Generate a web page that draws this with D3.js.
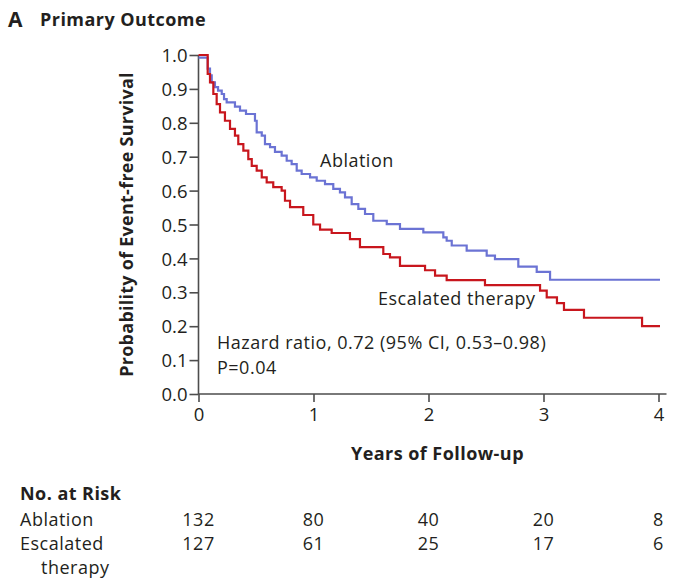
<!DOCTYPE html>
<html>
<head>
<meta charset="utf-8">
<script src="https://cdn.jsdelivr.net/npm/d3@7"></script>
<style>
body { margin: 0; background: #fff; }
text { font-family: "Open Sans", sans-serif; fill: #231f20; }
.axis path, .axis line { stroke: #4d4d4d; stroke-width: 1.6; }
.label { font-size: 18px; letter-spacing: 0.5px; }
.bold { font-size: 18px; font-weight: 700; letter-spacing: 0.45px; }
</style>
</head>
<body>
<div id="chart"></div>
<script>
// datos
const ablationTime = [0, 0.080, 0.100, 0.115, 0.143, 0.170, 0.202, 0.222, 0.245, 0.317, 0.361, 0.413, 0.491, 0.506, 0.550, 0.578, 0.622, 0.665, 0.723, 0.767, 0.810, 0.854, 0.897, 0.970, 1.028, 1.100, 1.172, 1.230, 1.274, 1.332, 1.390, 1.448, 1.520, 1.637, 1.752, 1.955, 2.129, 2.158, 2.202, 2.332, 2.506, 2.578, 2.781, 2.941, 3.057, 4.013]
const ablationSurv = [0.992, 0.960, 0.940, 0.919, 0.905, 0.895, 0.885, 0.870, 0.860, 0.848, 0.836, 0.826, 0.806, 0.772, 0.762, 0.737, 0.728, 0.714, 0.703, 0.688, 0.678, 0.659, 0.649, 0.639, 0.629, 0.619, 0.605, 0.595, 0.580, 0.560, 0.546, 0.531, 0.511, 0.501, 0.487, 0.477, 0.462, 0.452, 0.438, 0.423, 0.408, 0.398, 0.376, 0.360, 0.337, 0.337]

const escalatedTime = [0, 0.080, 0.100, 0.129, 0.158, 0.187, 0.230, 0.274, 0.317, 0.346, 0.390, 0.433, 0.463, 0.506, 0.550, 0.593, 0.650, 0.723, 0.752, 0.796, 0.911, 0.998, 1.057, 1.158, 1.317, 1.404, 1.607, 1.665, 1.752, 1.970, 2.057, 2.158, 2.491, 2.970, 3.028, 3.117, 3.178, 3.352, 3.857, 4.013]
const escalatedSurv = [1.0, 0.944, 0.919, 0.885, 0.855, 0.831, 0.806, 0.782, 0.762, 0.737, 0.718, 0.693, 0.673, 0.659, 0.639, 0.624, 0.610, 0.600, 0.570, 0.551, 0.528, 0.500, 0.485, 0.475, 0.457, 0.433, 0.413, 0.403, 0.378, 0.365, 0.349, 0.336, 0.321, 0.305, 0.285, 0.268, 0.248, 0.225, 0.200, 0.200]

const xTicks = [0, 1, 2, 3, 4]
const yTicks = [0.0, 0.1, 0.2, 0.3, 0.4, 0.5, 0.6, 0.7, 0.8, 0.9, 1.0]

const riskTimes = [0, 1, 2, 3, 4]
const riskAblation = [132, 80, 40, 20, 8]
const riskEscalated = [127, 61, 25, 17, 6]

const width = 689
const height = 585
const margin = { top: 55, left: 198.5, right: 30.5, bottom: 191 }

const svg = d3.select("div#chart").append("svg").attr("width", width).attr("height", height)

// escalas
const x = d3.scaleLinear().domain([0, 4]).range([margin.left, width - margin.right])
const y = d3.scaleLinear().domain([0, 1]).range([height - margin.bottom, margin.top])

// ejes
const yAxis = d3.axisLeft(y).tickValues(yTicks).tickFormat(d3.format(".1f")).tickSize(9).tickSizeOuter(0).tickPadding(2)
const xAxis = d3.axisBottom(x).tickValues(xTicks).tickFormat(d3.format("d")).tickSize(8).tickSizeOuter(0).tickPadding(6)

const yAxisGroup = svg.append("g").attr("class", "axis").attr("transform", `translate(${x(0)},0)`).call(yAxis)
const xAxisGroup = svg.append("g").attr("class", "axis").attr("transform", `translate(0,${y(0)})`).call(xAxis)
yAxisGroup.select(".domain").remove()
xAxisGroup.select(".domain").remove()
yAxisGroup.selectAll("text").attr("dy", "0.36em")
svg.selectAll(".axis").attr("font-size", null).attr("font-family", null)
svg.selectAll(".axis text").style("font-size", "18.5px").style("font-family", "'Open Sans', sans-serif").style("fill", "#231f20")

svg.append("line").attr("x1", x(0)).attr("x2", x(0)).attr("y1", y(1)).attr("y2", y(0))
    .attr("stroke", "#4d4d4d").attr("stroke-width", 1.6)
svg.append("line").attr("x1", x(0)).attr("x2", x(4) + 8).attr("y1", y(0)).attr("y2", y(0))
    .attr("stroke", "#4d4d4d").attr("stroke-width", 1.6)

// curvas
const line = d3.line().x(d => x(d[0])).y(d => y(d[1])).curve(d3.curveStepAfter)

svg.append("path").datum(d3.zip(ablationTime, ablationSurv))
    .attr("d", line).attr("fill", "none").attr("stroke", "#6b73d4").attr("stroke-width", 2.2)
svg.append("path").datum(d3.zip(escalatedTime, escalatedSurv))
    .attr("d", line).attr("fill", "none").attr("stroke", "#c8161d").attr("stroke-width", 2.2)

// textos
svg.append("text").attr("x", 8).attr("y", 27).attr("class", "bold").style("font-size", "21px").text("A")
svg.append("text").attr("x", 40).attr("y", 26).attr("class", "bold").text("Primary Outcome")

svg.append("text").attr("transform", `translate(133,${(y(0) + y(1)) / 2}) rotate(-90)`)
    .attr("text-anchor", "middle").attr("class", "bold").style("letter-spacing", "0.25px")
    .text("Probability of Event-free Survival")
svg.append("text").attr("x", x(2) + 9).attr("y", 460).attr("text-anchor", "middle")
    .attr("class", "bold").text("Years of Follow-up")

svg.append("text").attr("x", 320).attr("y", 167).attr("class", "label").text("Ablation")
svg.append("text").attr("x", 378).attr("y", 305).attr("class", "label").text("Escalated therapy")
svg.append("text").attr("x", 217).attr("y", 349).attr("class", "label").text("Hazard ratio, 0.72 (95% CI, 0.53\u20130.98)")
svg.append("text").attr("x", 217).attr("y", 374).attr("class", "label").text("P=0.04")

// tabla de pacientes en riesgo
svg.append("text").attr("x", 20).attr("y", 500).attr("class", "bold").text("No. at Risk")
svg.append("text").attr("x", 20).attr("y", 526).attr("class", "label").text("Ablation")
svg.append("text").attr("x", 20).attr("y", 550).attr("class", "label").text("Escalated")
svg.append("text").attr("x", 41).attr("y", 574).attr("class", "label").text("therapy")

svg.selectAll("text.riskA").data(riskAblation).enter().append("text").attr("class", "riskA label")
    .attr("x", (d, i) => x(riskTimes[i])).attr("y", 526).attr("text-anchor", "middle").text(d => d)
svg.selectAll("text.riskE").data(riskEscalated).enter().append("text").attr("class", "riskE label")
    .attr("x", (d, i) => x(riskTimes[i])).attr("y", 550).attr("text-anchor", "middle").text(d => d)
</script>
</body>
</html>
